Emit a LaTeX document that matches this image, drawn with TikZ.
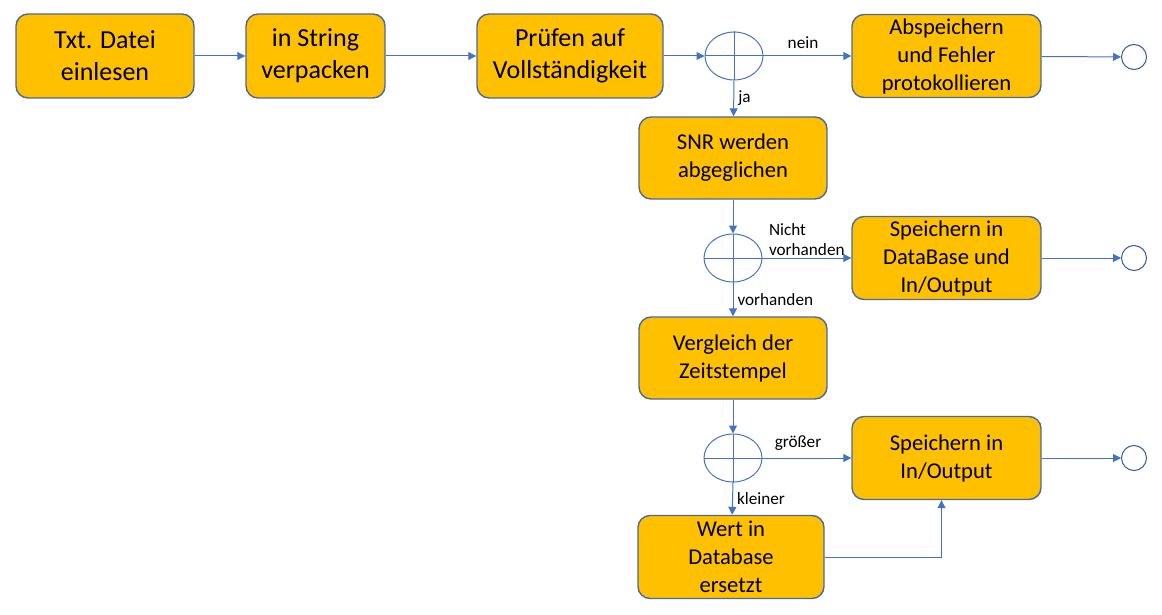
\documentclass[tikz,border=0pt]{standalone}
\usepackage{fontspec}
\setmainfont{Carlito}
\usetikzlibrary{shapes.geometric,arrows.meta}
\definecolor{boxfill}{HTML}{FFC000}
\definecolor{boxline}{HTML}{4A6A9E}
\definecolor{flow}{HTML}{4472C4}

\begin{document}
\begin{tikzpicture}[x=0.5pt, y=-0.5pt,
    task/.style={draw=boxline, line width=0.7pt, fill=boxfill, rounded corners=6pt,
                 align=center, inner sep=0pt, font=\fontsize{11.3}{14}\selectfont},
    bigtask/.style={task, font=\fontsize{13}{16}\selectfont},
    gate/.style={draw=flow, line width=0.5pt, ellipse, minimum width=29pt, minimum height=24pt, inner sep=0pt},
    stopper/.style={draw=flow!80!black, line width=0.5pt, circle, fill=white, minimum size=12.5pt, inner sep=0pt},
    flowline/.style={draw=flow, line width=0.5pt, -{Triangle[length=4pt,width=4pt]}},
    lbl/.style={font=\fontsize{8.6}{10}\selectfont, text=black}]

    % keep the reference proportions
    \useasboundingbox (0,0) rectangle (1162,615);

    % first row
    \node[bigtask, minimum width=89pt, minimum height=42pt] (read) at (105,56) {Txt. Datei\\einlesen};
    \node[bigtask, minimum width=69.5pt, minimum height=42pt] (pack) at (315.5,56) {in String\\verpacken};
    \node[bigtask, minimum width=93pt, minimum height=42pt] (check) at (570,56) {Prüfen auf\\Vollständigkeit};
    \node[gate] (gcheck) at (734,56) {};
    \node[task, minimum width=94.5pt, minimum height=41.5pt] (logerr) at (946.5,56) {Abspeichern\\und Fehler\\protokollieren};
    \node[stopper] (endA) at (1134,57) {};

    % second row
    \node[task, minimum width=94pt, minimum height=41pt] (snr) at (733,158) {SNR werden\\abgeglichen};
    \node[gate] (gsnr) at (733,258) {};
    \node[task, minimum width=94.5pt, minimum height=41.5pt] (savedb) at (946.5,258) {Speichern in\\DataBase und\\In/Output};
    \node[stopper] (endB) at (1134,258) {};

    % third row
    \node[task, minimum width=94pt, minimum height=41pt] (stamp) at (733,358) {Vergleich der\\Zeitstempel};
    \node[gate] (gstamp) at (733,458) {};
    \node[task, minimum width=94.5pt, minimum height=41.5pt] (saveio) at (946.5,458) {Speichern in\\In/Output};
    \node[stopper] (endC) at (1134,458) {};
    \node[task, minimum width=93pt, minimum height=41.5pt] (replace) at (731,557) {Wert in\\Database\\ersetzt};

    % crosses inside the gateways
    \foreach \g in {gcheck,gsnr,gstamp}
        \draw[flow, line width=0.5pt] (\g.north) -- (\g.south) (\g.west) -- (\g.east);

    % connectors
    \draw[flowline] (read) -- (pack);
    \draw[flowline] (pack) -- (check);
    \draw[flowline] (check) -- (gcheck);
    \draw[flowline] (gcheck) -- node[lbl, above, pos=0.45] {nein} (logerr);
    \draw[flowline] (logerr) -- (endA);
    \draw[flowline] (gcheck.south) -- node[lbl, right, inner sep=2pt] {ja} (snr);

    \draw[flowline] (snr) -- (gsnr);
    \draw[flowline] (gsnr) -- node[lbl, pos=0, anchor=south west, align=left, xshift=2pt, inner sep=1pt] {Nicht\\vorhanden} (savedb);
    \draw[flowline] (savedb) -- (endB);
    \draw[flowline] (gsnr.south) -- node[lbl, right, inner sep=2pt] {vorhanden} (stamp);

    \draw[flowline] (stamp) -- (gstamp);
    \draw[flowline] (gstamp) -- node[lbl, above, pos=0.4] {größer} (saveio);
    \draw[flowline] (saveio) -- (endC);
    \draw[flowline] (gstamp.south) -- node[lbl, right, inner sep=2pt] {kleiner} (replace);
    \draw[flowline] (replace.east) -| ([xshift=-2.5pt]saveio.south);
\end{tikzpicture}
\end{document}
